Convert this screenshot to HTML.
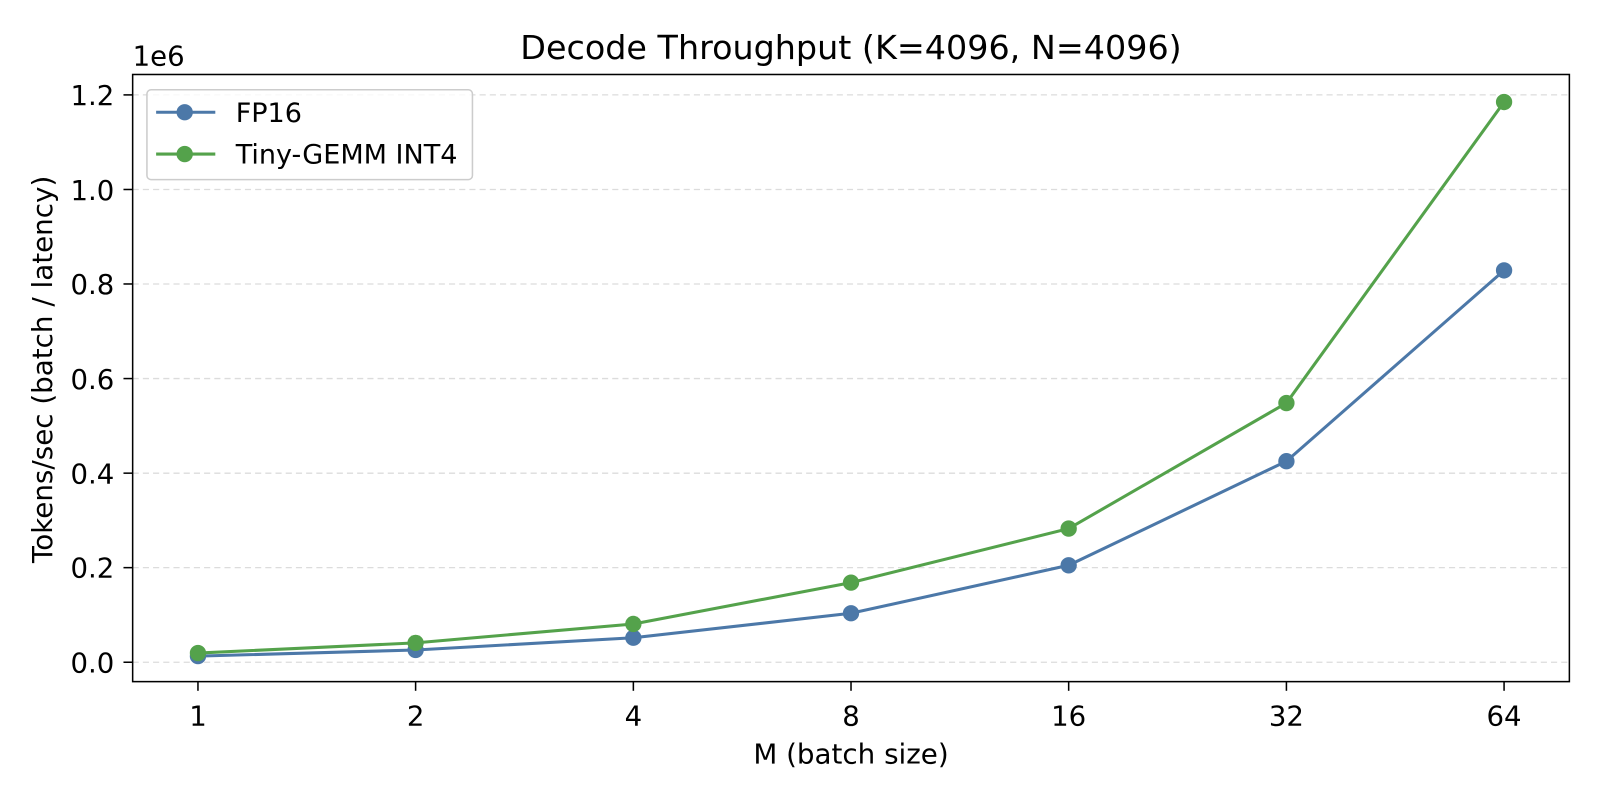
<!DOCTYPE html>
<html><head><meta charset="utf-8"><style>
html,body{margin:0;padding:0;background:#fff;overflow:hidden;width:1600px;height:800px}
svg{display:block}
svg text{font-family:"DejaVu Sans","Liberation Sans",sans-serif;fill:#000}
</style></head><body>
<svg width="1600" height="800" viewBox="0 0 1600 800" xmlns="http://www.w3.org/2000/svg">
<rect width="1600" height="800" fill="#fff"/>
<g transform="scale(1.0204)">
<g stroke="#dcdcdc" stroke-width="1.3" stroke-dasharray="6,4">
<line x1="130" x2="1538" y1="649" y2="649"/>
<line x1="130" x2="1538" y1="556.3" y2="556.3"/>
<line x1="130" x2="1538" y1="463.7" y2="463.7"/>
<line x1="130" x2="1538" y1="371" y2="371"/>
<line x1="130" x2="1538" y1="278.3" y2="278.3"/>
<line x1="130" x2="1538" y1="185.7" y2="185.7"/>
<line x1="130" x2="1538" y1="93" y2="93"/>
</g>
<rect x="130" y="73" width="1408" height="595" fill="none" stroke="#000" stroke-width="1.5"/>
<g stroke="#000" stroke-width="1.5">
<line x1="130" x2="121" y1="649" y2="649"/><line x1="130" x2="121" y1="556.3" y2="556.3"/>
<line x1="130" x2="121" y1="463.7" y2="463.7"/><line x1="130" x2="121" y1="371" y2="371"/>
<line x1="130" x2="121" y1="278.3" y2="278.3"/><line x1="130" x2="121" y1="185.7" y2="185.7"/>
<line x1="130" x2="121" y1="93" y2="93"/>
<line x1="194" x2="194" y1="668" y2="677"/><line x1="407.3" x2="407.3" y1="668" y2="677"/>
<line x1="620.7" x2="620.7" y1="668" y2="677"/><line x1="834" x2="834" y1="668" y2="677"/>
<line x1="1047.3" x2="1047.3" y1="668" y2="677"/><line x1="1260.7" x2="1260.7" y1="668" y2="677"/>
<line x1="1474" x2="1474" y1="668" y2="677"/>
</g>
<g font-size="27" text-anchor="end">
<text x="112" y="659">0.0</text><text x="112" y="566">0.2</text><text x="112" y="474">0.4</text>
<text x="112" y="381">0.6</text><text x="112" y="288">0.8</text><text x="112" y="196">1.0</text>
<text x="112" y="103">1.2</text>
</g>
<text x="130" y="64" font-size="27">1e6</text>
<g font-size="27" text-anchor="middle">
<text x="194" y="711">1</text><text x="407.3" y="711">2</text><text x="620.7" y="711">4</text>
<text x="834" y="711">8</text><text x="1047.3" y="711">16</text><text x="1260.7" y="711">32</text>
<text x="1474" y="711">64</text>
<text x="834" y="748" font-size="27.2">M (batch size)</text>
<text x="834" y="58" font-size="32.7">Decode Throughput (K=4096, N=4096)</text>
<text transform="translate(51,362) rotate(-90)" font-size="27.2">Tokens/sec (batch / latency)</text>
</g>
<polyline fill="none" stroke="#4c78a8" stroke-width="3" points="194,643 407.3,637 620.7,625 834,601 1047.3,554 1260.7,452 1474,265"/>
<g fill="#4c78a8">
<circle cx="194" cy="643" r="8"/><circle cx="407.3" cy="637" r="8"/><circle cx="620.7" cy="625" r="8"/>
<circle cx="834" cy="601" r="8"/><circle cx="1047.3" cy="554" r="8"/><circle cx="1260.7" cy="452" r="8"/>
<circle cx="1474" cy="265" r="8"/>
</g>
<polyline fill="none" stroke="#54a24b" stroke-width="3" points="194,640 407.3,630 620.7,611.5 834,571 1047.3,518 1260.7,395 1474,100"/>
<g fill="#54a24b">
<circle cx="194" cy="640" r="8"/><circle cx="407.3" cy="630" r="8"/><circle cx="620.7" cy="611.5" r="8"/>
<circle cx="834" cy="571" r="8"/><circle cx="1047.3" cy="518" r="8"/><circle cx="1260.7" cy="395" r="8"/>
<circle cx="1474" cy="100" r="8"/>
</g>
<rect x="144" y="88" width="319" height="88" rx="4" fill="#fff" fill-opacity="0.8" stroke="#ccc" stroke-width="1.5"/>
<line x1="153" x2="211" y1="110" y2="110" stroke="#4c78a8" stroke-width="3"/><circle cx="181" cy="110" r="8" fill="#4c78a8"/>
<line x1="153" x2="211" y1="151" y2="151" stroke="#54a24b" stroke-width="3"/><circle cx="181" cy="151" r="8" fill="#54a24b"/>
<text x="231" y="119.5" font-size="26.5">FP16</text>
<text x="231" y="160" font-size="26.5">Tiny-GEMM INT4</text>
</g>
</svg>
</body></html>
